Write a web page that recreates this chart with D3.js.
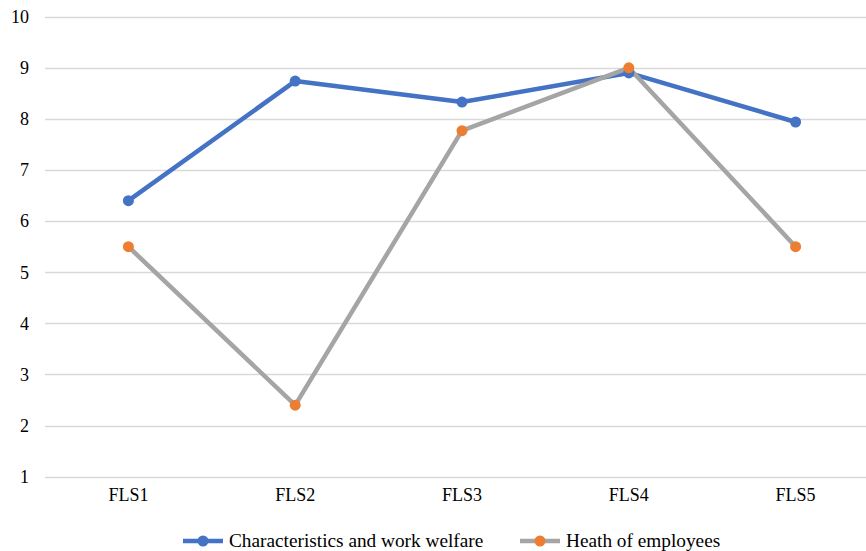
<!DOCTYPE html>
<html>
<head>
<meta charset="utf-8">
<script src="https://cdn.jsdelivr.net/npm/d3@7"></script>
<style>
  html, body { margin: 0; padding: 0; background: #fff; }
  svg { display: block; }
  svg text { font-family: 'Liberation Serif', 'DejaVu Serif', 'Times New Roman', serif !important; fill: #000; }
</style>
</head>
<body>
<svg id="chart" width="866" height="551"></svg>
<script>
const categories = ["FLS1", "FLS2", "FLS3", "FLS4", "FLS5"];
const welfare = [6.4, 8.74, 8.33, 8.9, 7.94];
const health = [5.5, 2.4, 7.77, 9.0, 5.5];
const yTicks = [1, 2, 3, 4, 5, 6, 7, 8, 9, 10];
const seriesNames = ["Characteristics and work welfare", "Heath of employees"];

const svg = d3.select("#chart");
const W = 866, H = 551;
const axisFont = 18;
const legendFont = 19.3;

const x = d3.scaleBand().domain(categories).range([45, 879]);
const y = d3.scaleLinear().domain([1, 10]).range([476.7, 16.7]);
const cx = d => x(d) + x.bandwidth() / 2;

// horizontal gridlines
svg.append("g").selectAll("line").data(yTicks).join("line")
  .attr("x1", 45).attr("x2", W)
  .attr("y1", d => Math.round(y(d)) + 0.5).attr("y2", d => Math.round(y(d)) + 0.5)
  .attr("stroke", "#d9d9d9").attr("stroke-width", 1.3);

// y axis labels
const yAxis = d3.axisLeft(y).tickValues(yTicks).tickSize(0).tickPadding(0);
const gy = svg.append("g").attr("transform", "translate(29,0)").call(yAxis);
gy.select(".domain").remove();
gy.attr("font-size", axisFont);

// x axis labels
const xAxis = d3.axisBottom(x).tickSize(0).tickPadding(0);
const gx = svg.append("g").attr("transform", "translate(0,488)").call(xAxis);
gx.select(".domain").remove();
gx.attr("font-size", axisFont);

const line = d3.line().x((d, i) => cx(categories[i])).y(d => y(d));

const series = [
  { name: seriesNames[0], values: welfare, stroke: "#4472c4", fill: "#4472c4" },
  { name: seriesNames[1], values: health, stroke: "#a5a5a5", fill: "#ed7d31" }
];

series.forEach(s => {
  svg.append("path").datum(s.values).attr("d", line)
    .attr("fill", "none").attr("stroke", s.stroke).attr("stroke-width", 4.5)
    .attr("stroke-linejoin", "round").attr("stroke-linecap", "round");
});
series.forEach(s => {
  svg.append("g").selectAll("circle").data(s.values).join("circle")
    .attr("cx", (d, i) => cx(categories[i])).attr("cy", d => y(d))
    .attr("r", 5.5).attr("fill", s.fill);
});

// legend
const legendY = 541;
const legendItems = [
  { x: 183, s: series[0] },
  { x: 520, s: series[1] }
];
legendItems.forEach(li => {
  const g = svg.append("g");
  g.append("line").attr("x1", li.x).attr("x2", li.x + 40)
    .attr("y1", legendY).attr("y2", legendY)
    .attr("stroke", li.s.stroke).attr("stroke-width", 4.5);
  g.append("circle").attr("cx", li.x + 20).attr("cy", legendY).attr("r", 5.5).attr("fill", li.s.fill);
  g.append("text").attr("x", li.x + 46).attr("y", legendY + 6)
    .attr("font-size", legendFont).text(li.s.name);
});
</script>
</body>
</html>
